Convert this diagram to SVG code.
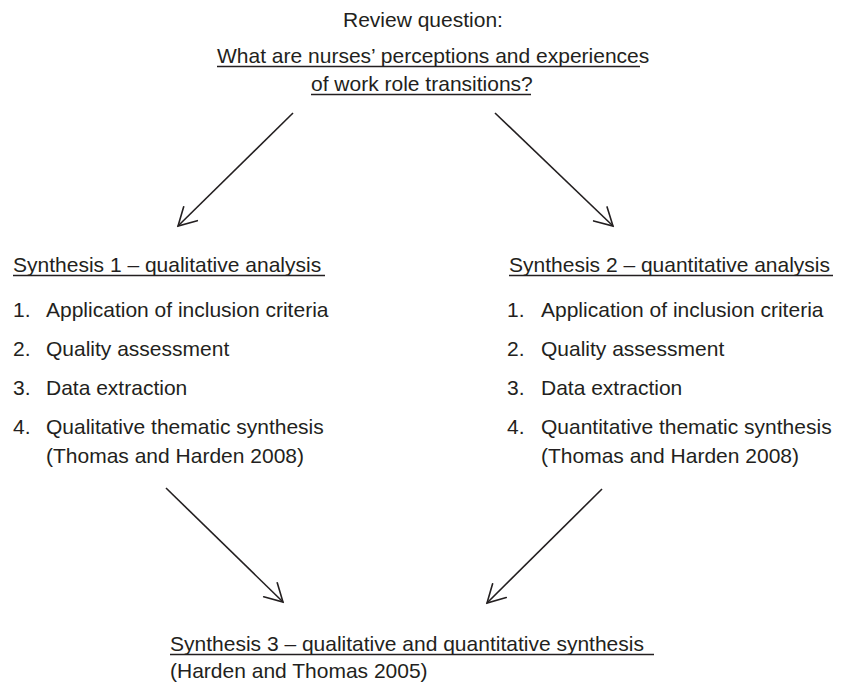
<svg xmlns="http://www.w3.org/2000/svg" width="846" height="685" viewBox="0 0 846 685">
<style>
text{font-family:"Liberation Sans",Arial,Helvetica,sans-serif;font-size:21px;fill:#231f20}
.ul{stroke:#231f20;stroke-width:1.4}
.conn{stroke:#231f20;stroke-width:1.6;fill:none;marker-end:url(#arr)}
</style>
<defs>
<marker id="arr" markerUnits="userSpaceOnUse" viewBox="-20 -12 22 24" refX="0" refY="0" markerWidth="22" markerHeight="24" orient="auto">
<path d="M-17.5,-9.7 L0,0 L-17.5,9.7" fill="none" stroke="#231f20" stroke-width="1.6" stroke-linecap="round" stroke-linejoin="miter"/>
</marker>
</defs>
<rect width="846" height="685" fill="#ffffff"/>
<g id="question">
<text x="343" y="27">Review question:</text>
<text x="217" y="63">What are nurses’ perceptions and experiences</text>
<line class="ul" x1="217" y1="66.5" x2="640" y2="66.5"/>
<text x="311" y="91">of work role transitions?</text>
<line class="ul" x1="311" y1="94.5" x2="531" y2="94.5"/>
</g>
<g id="synthesis1">
<text x="13" y="272">Synthesis 1 – qualitative analysis</text>
<line class="ul" x1="13" y1="275.5" x2="325" y2="275.5"/>
<text x="13" y="317">1.</text><text x="46" y="317">Application of inclusion criteria</text>
<text x="13" y="356">2.</text><text x="46" y="356">Quality assessment</text>
<text x="13" y="395">3.</text><text x="46" y="395">Data extraction</text>
<text x="13" y="434">4.</text><text x="46" y="434">Qualitative thematic synthesis</text>
<text x="46" y="463">(Thomas and Harden 2008)</text>
</g>
<g id="synthesis2">
<text x="509" y="272">Synthesis 2 – quantitative analysis</text>
<line class="ul" x1="509" y1="275.5" x2="833" y2="275.5"/>
<text x="507" y="317">1.</text><text x="541" y="317">Application of inclusion criteria</text>
<text x="507" y="356">2.</text><text x="541" y="356">Quality assessment</text>
<text x="507" y="395">3.</text><text x="541" y="395">Data extraction</text>
<text x="507" y="434">4.</text><text x="541" y="434">Quantitative thematic synthesis</text>
<text x="541" y="463">(Thomas and Harden 2008)</text>
</g>
<g id="synthesis3">
<text x="170" y="651">Synthesis 3 – qualitative and quantitative synthesis</text>
<line class="ul" x1="170" y1="654.5" x2="654" y2="654.5"/>
<text x="170" y="678">(Harden and Thomas 2005)</text>
</g>
<g id="connectors">
<line class="conn" x1="293" y1="113" x2="178" y2="226"/>
<line class="conn" x1="495" y1="113" x2="613" y2="226"/>
<line class="conn" x1="166" y1="488" x2="283" y2="602"/>
<line class="conn" x1="602" y1="489" x2="487" y2="603"/>
</g>
</svg>
